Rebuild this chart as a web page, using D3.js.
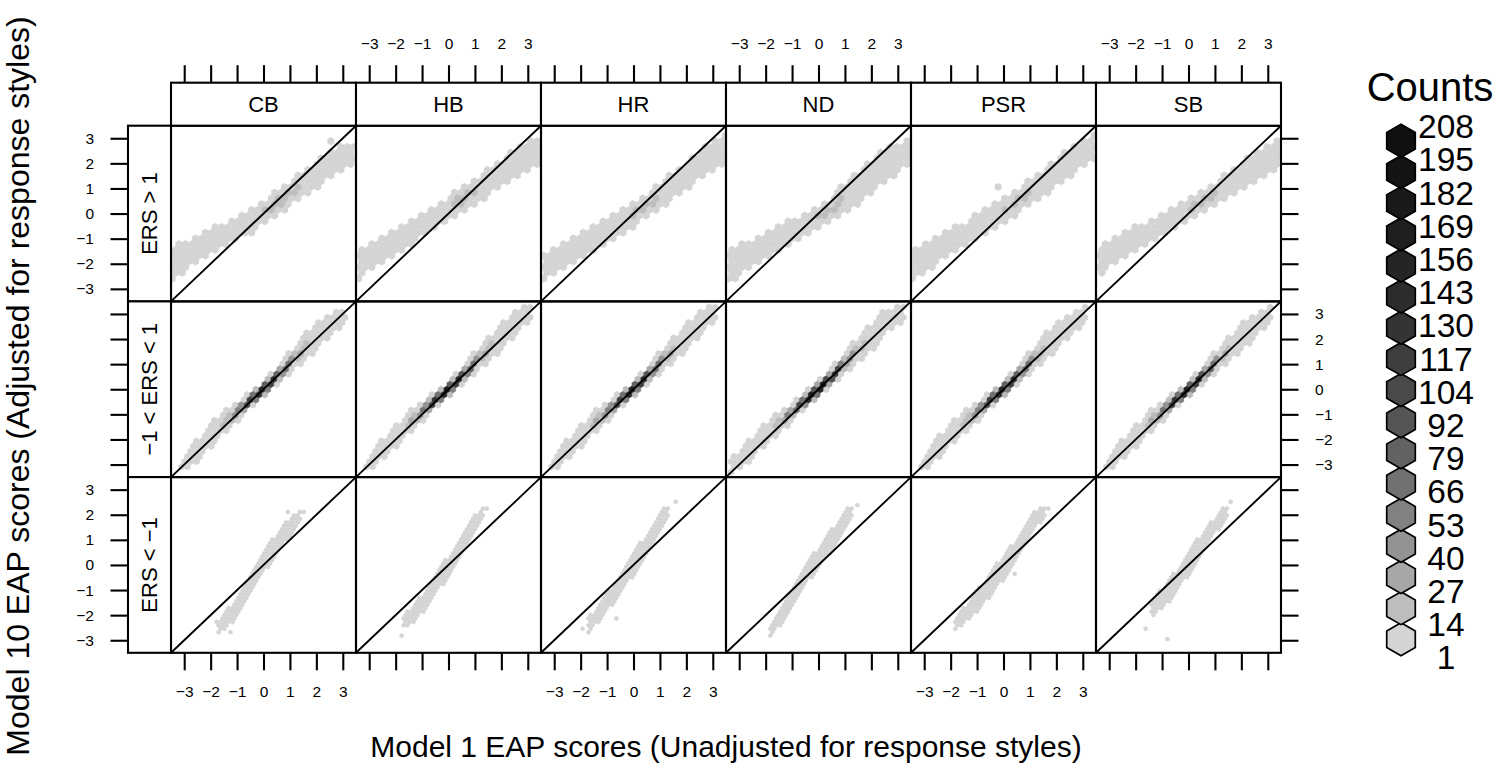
<!DOCTYPE html>
<html><head><meta charset="utf-8">
<script src="https://cdn.jsdelivr.net/npm/d3@7"></script>
<style>
body{margin:0;background:#fff}
svg{display:block}
text{font-family:"Liberation Sans",Arial,Helvetica,sans-serif;fill:#000}
</style>
</head><body>
<svg id="chart" width="1501" height="769"></svg>
<script>
// ---------------- data ----------------
const categories = ["CB","HB","HR","ND","PSR","SB"];
const groups = ["ERS > 1","\u22121 < ERS < 1","ERS < \u22121"];
const tickValues = [-3,-2,-1,0,1,2,3];
const legendBreaks = [1,14,27,40,53,66,79,92,104,117,130,143,156,169,182,195,208];
const legendGrays = ["#d4d4d4","#bdbdbd","#a7a7a7","#939393","#818181","#717171","#626262","#555555","#494949","#3e3e3e","#343434","#2c2c2c","#252525","#1f1f1f","#191919","#141414","#0f0f0f"];

// cloud profiles: [x, centre y, half-width in y, peak hexagon count]
const high_CB  = [[-3.45,-2.0,0.7,2],[-2.5,-1.4,0.55,4],[-1.5,-0.85,0.5,6],[-0.5,-0.3,0.5,10],[0.5,0.4,0.5,17],[1.5,1.2,0.55,14],[2.5,1.9,0.55,6],[3.4,2.4,0.5,2]];
const high_HB  = [[-3.4,-2.0,0.6,2],[-2.5,-1.4,0.55,4],[-1.5,-0.8,0.5,7],[-0.5,-0.15,0.5,12],[0.5,0.55,0.5,16],[1.5,1.25,0.55,12],[2.5,1.95,0.6,6],[3.4,2.5,0.55,2]];
const high_HR  = [[-3.4,-2.1,0.55,2],[-2.5,-1.6,0.55,4],[-1.5,-1.0,0.5,7],[-0.5,-0.35,0.5,12],[0.5,0.3,0.5,16],[1.5,1.1,0.55,12],[2.5,1.95,0.6,6],[3.4,2.55,0.55,2]];
const high_ND  = [[-3.4,-2.1,0.7,2],[-2.5,-1.55,0.55,4],[-1.5,-0.95,0.5,7],[-0.5,-0.45,0.45,12],[0.5,0.2,0.5,16],[1.5,1.05,0.7,12],[2.5,1.9,0.65,6],[3.4,2.45,0.55,2]];
const high_PSR = [[-3.45,-2.05,0.6,2],[-2.5,-1.45,0.55,4],[-1.5,-0.85,0.5,7],[-0.5,-0.2,0.5,12],[0.5,0.45,0.5,16],[1.5,1.2,0.55,12],[2.5,2.05,0.6,6],[3.4,2.7,0.55,2]];
const high_SB  = [[-3.4,-1.85,0.6,2],[-2.5,-1.3,0.55,4],[-1.5,-0.75,0.5,7],[-0.5,-0.15,0.5,12],[0.5,0.45,0.5,16],[1.5,1.1,0.55,12],[2.5,1.85,0.6,6],[3.4,2.35,0.6,2]];

const mid_CB  = [[-3.1,-3.05,0.3,1],[-2.5,-2.45,0.45,2],[-2,-1.85,0.5,6],[-1.5,-1.35,0.45,20],[-1,-0.9,0.4,60],[-0.5,-0.45,0.35,130],[0,0.0,0.35,170],[0.5,0.5,0.4,130],[1,1.05,0.5,70],[1.5,1.6,0.55,25],[2,2.1,0.55,8],[2.5,2.55,0.5,3],[3.0,2.85,0.35,1]];
const mid_HB  = [[-3.1,-3.0,0.3,1],[-2.5,-2.4,0.45,2],[-2,-1.85,0.45,6],[-1.5,-1.35,0.45,22],[-1,-0.9,0.4,65],[-0.5,-0.45,0.35,140],[0,0.0,0.35,190],[0.5,0.5,0.4,140],[1,1.05,0.45,70],[1.5,1.6,0.5,25],[2,2.1,0.55,8],[2.5,2.6,0.5,3],[3.0,3.0,0.35,1]];
const mid_HR  = [[-3.1,-3.05,0.3,1],[-2.5,-2.4,0.45,2],[-2,-1.85,0.45,6],[-1.5,-1.35,0.45,22],[-1,-0.9,0.4,62],[-0.5,-0.45,0.35,135],[0,0.0,0.35,180],[0.5,0.5,0.4,135],[1,1.05,0.45,68],[1.5,1.6,0.5,24],[2,2.1,0.55,8],[2.5,2.6,0.5,3],[3.0,3.0,0.35,1]];
const mid_ND  = [[-3.2,-3.0,0.35,1],[-2.5,-2.35,0.45,2],[-2,-1.8,0.45,6],[-1.5,-1.35,0.45,24],[-1,-0.9,0.4,70],[-0.5,-0.45,0.35,150],[0,0.0,0.35,208],[0.5,0.5,0.4,150],[1,1.05,0.45,70],[1.5,1.6,0.55,25],[2,2.05,0.55,8],[2.5,2.65,0.5,3],[3.1,3.0,0.35,1]];
const mid_PSR = [[-3.1,-3.0,0.3,1],[-2.5,-2.35,0.45,2],[-2,-1.8,0.45,6],[-1.5,-1.35,0.45,20],[-1,-0.9,0.4,60],[-0.5,-0.45,0.35,130],[0,0.0,0.35,170],[0.5,0.5,0.4,130],[1,1.05,0.5,65],[1.5,1.6,0.55,22],[2,2.1,0.55,8],[2.5,2.55,0.5,3],[3.0,2.9,0.35,1]];
const mid_SB  = [[-3.1,-3.0,0.3,1],[-2.5,-2.4,0.45,2],[-2,-1.85,0.45,6],[-1.5,-1.35,0.45,22],[-1,-0.9,0.4,65],[-0.5,-0.45,0.35,140],[0,0.0,0.35,185],[0.5,0.5,0.4,140],[1,1.05,0.45,68],[1.5,1.55,0.5,24],[2,2.05,0.55,8],[2.5,2.5,0.5,3],[3.0,2.9,0.35,1]];

const low_CB  = [[-1.7,-2.45,0.3,1],[-1.2,-1.95,0.4,2],[-0.6,-0.85,0.45,3],[0,0.1,0.45,4],[0.5,0.85,0.45,4],[1.0,1.5,0.4,2],[1.35,1.9,0.3,1]];
const low_HB  = [[-1.7,-2.3,0.3,1],[-1.1,-1.7,0.4,2],[-0.4,-0.6,0.45,3],[0.15,0.1,0.45,4],[0.6,0.95,0.45,3],[1.0,1.6,0.4,2],[1.3,2.0,0.3,1]];
const low_HR  = [[-1.7,-2.4,0.3,1],[-1.0,-1.5,0.4,2],[-0.3,-0.45,0.45,3],[0.2,0.35,0.45,4],[0.7,1.2,0.45,3],[1.1,1.85,0.35,2],[1.3,2.1,0.3,1]];
const low_ND  = [[-1.75,-2.5,0.3,1],[-1.1,-1.6,0.4,2],[-0.35,-0.2,0.45,3],[0.3,0.7,0.45,4],[0.8,1.45,0.4,3],[1.1,1.9,0.35,2],[1.25,2.1,0.3,1]];
const low_PSR = [[-1.75,-2.3,0.3,1],[-1.0,-1.45,0.45,2],[-0.3,-0.5,0.5,3],[0.3,0.3,0.5,4],[0.8,1.1,0.45,3],[1.2,1.8,0.35,2],[1.5,2.1,0.3,1]];
const low_SB  = [[-1.4,-1.75,0.35,1],[-0.8,-1.1,0.45,2],[-0.2,-0.3,0.45,3],[0.4,0.7,0.45,4],[0.9,1.4,0.4,3],[1.2,1.85,0.35,2],[1.4,2.05,0.3,1]];

// isolated hexagons: [row, column, x, y]
const outliers = [
  [0,0,2.44,2.93],[0,0,-3.41,-2.32],
  [0,4,-0.19,1.07],[0,4,2.93,2.93],
  [2,0,-1.78,-2.3],[2,0,-1.53,-2.3],[2,0,-1.27,-2.69],[2,0,1.49,2.13],[2,0,0.99,2.06],
  [2,1,-1.81,-2.82],[2,1,1.42,2.29],
  [2,2,1.64,2.56],[2,2,-1.9,-2.56],[2,2,-0.68,-2.1],
  [2,3,1.45,2.42],
  [2,4,1.72,2.23],[2,4,0.45,-0.37],
  [2,5,-1.58,-2.56],[2,5,-0.81,-2.95],[2,5,1.64,2.56]
];

// hexagon width (data units) per row, and spread of the dense core
const hexSize = [0.25, 0.225, 0.15];
const coreSpread = [0.45, 0.17, 0.4];

const bands = [
  [high_CB, high_HB, high_HR, high_ND, high_PSR, high_SB],
  [mid_CB, mid_HB, mid_HR, mid_ND, mid_PSR, mid_SB],
  [low_CB, low_HB, low_HR, low_ND, low_PSR, low_SB]
];

// ---------------- layout ----------------
const svg = d3.select("#chart");
const X0 = 171, Y0 = 125.7, PW = 185, PH = 175.7;
const STRIP = 43;
const LW = 2.1;
const x = d3.scaleLinear().domain([-3.5, 3.5]).range([0, PW]);
const y = d3.scaleLinear().domain([-3.5, 3.5]).range([PH, 0]);
const color = d3.scaleThreshold().domain(legendBreaks.slice(1)).range(legendGrays);
const FONT = '"Liberation Sans",Arial,Helvetica,sans-serif';

function hexPath(cx, cy, r) {
  const pts = d3.range(6).map(k => {
    const a = Math.PI / 3 * k + Math.PI / 6;
    return [cx + r * Math.cos(a), cy + r * Math.sin(a)];
  });
  return "M" + pts.map(p => p[0].toFixed(2) + "," + p[1].toFixed(2)).join("L") + "Z";
}

const defs = svg.append("defs");
defs.append("clipPath").attr("id", "pclip").append("rect")
  .attr("x", 0).attr("y", 0).attr("width", PW).attr("height", PH);

groups.forEach((gname, r) => {
  categories.forEach((cname, c) => {
    const band = bands[r][c];
    const g = svg.append("g").attr("transform", `translate(${X0 + c * PW},${Y0 + r * PH})`);
    const cS = d3.scaleLinear().domain(band.map(d => d[0])).range(band.map(d => d[1]));
    const hS = d3.scaleLinear().domain(band.map(d => d[0])).range(band.map(d => d[2]));
    const pS = d3.scaleLinear().domain(band.map(d => d[0])).range(band.map(d => d[3]));
    const xa = band[0][0], xb = band[band.length - 1][0];
    const wpx = x(hexSize[r]) - x(0);
    const rpx = wpx / Math.sqrt(3);
    const vs = 1.5 * rpx;
    const cells = new Map();
    const nJ = Math.ceil(PH / vs) + 1;
    const nI = Math.ceil((x(xb) - x(xa)) / wpx) + 2;
    for (let j = 0; j <= nJ; j++) {
      const cy = PH - j * vs;
      const off = (j % 2) * wpx / 2;
      for (let i = -1; i <= nI; i++) {
        const cx = x(xa) + i * wpx + off;
        const dx = x.invert(cx), dy = y.invert(cy);
        if (dx < xa - hexSize[r] / 2 || dx > xb + hexSize[r] / 2) continue;
        const cen = cS(dx), half = hS(dx), peak = pS(dx);
        const dist = Math.abs(dy - cen);
        if (dist > half) continue;
        const cnt = Math.max(1, Math.round(peak * Math.exp(-Math.pow(dist / coreSpread[r], 2))));
        cells.set(j + "_" + i, {cx, cy, count: cnt});
      }
    }
    outliers.filter(o => o[0] === r && o[1] === c).forEach(o => {
      const j = Math.round((PH - y(o[3])) / vs);
      const off = (((j % 2) + 2) % 2) * wpx / 2;
      const i = Math.round((x(o[2]) - x(xa) - off) / wpx);
      const key = j + "_" + i;
      if (!cells.has(key)) cells.set(key, {cx: x(xa) + i * wpx + off, cy: PH - j * vs, count: 1});
    });
    const data = Array.from(cells.values()).sort((a, b) => a.count - b.count);
    g.append("g").attr("clip-path", "url(#pclip)")
      .selectAll("path").data(data).join("path")
      .attr("d", d => hexPath(d.cx, d.cy, rpx))
      .attr("fill", d => color(d.count))
      .attr("stroke", d => color(d.count))
      .attr("stroke-width", 0.4);
    g.append("line")
      .attr("x1", x(-3.5)).attr("y1", y(-3.5)).attr("x2", x(3.5)).attr("y2", y(3.5))
      .attr("stroke", "#000").attr("stroke-width", 1.9);
    g.append("rect").attr("width", PW).attr("height", PH)
      .attr("fill", "none").attr("stroke", "#000").attr("stroke-width", LW);
  });
});

// top strips
categories.forEach((cname, c) => {
  const g = svg.append("g").attr("transform", `translate(${X0 + c * PW},${Y0 - STRIP})`);
  g.append("rect").attr("width", PW).attr("height", STRIP)
    .attr("fill", "#fff").attr("stroke", "#000").attr("stroke-width", LW);
  g.append("text").attr("x", PW / 2).attr("y", STRIP / 2).attr("dy", "0.36em")
    .attr("text-anchor", "middle").attr("font-size", 22).text(cname);
});
// left strips
groups.forEach((gname, r) => {
  const g = svg.append("g").attr("transform", `translate(${X0 - STRIP},${Y0 + r * PH})`);
  g.append("rect").attr("width", STRIP).attr("height", PH)
    .attr("fill", "#fff").attr("stroke", "#000").attr("stroke-width", LW);
  g.append("text").attr("transform", `translate(${STRIP / 2},${PH / 2}) rotate(-90)`)
    .attr("dy", "0.36em").attr("text-anchor", "middle").attr("font-size", 22).text(gname);
});

// axes
const fmt = d3.format("d");
function styleAxis(sel) {
  sel.select(".domain").remove();
  sel.attr("font-size", 15.5).attr("font-family", FONT);
  sel.selectAll(".tick line").attr("stroke-width", LW);
  sel.selectAll(".tick text").attr("fill", "#000");
}
categories.forEach((cname, c) => {
  const xs = x.copy().range([X0 + c * PW, X0 + (c + 1) * PW]);
  svg.append("g").attr("transform", `translate(0,${Y0 + 3 * PH})`)
    .call(d3.axisBottom(xs).tickValues(tickValues).tickSize(17.5).tickPadding(16)
      .tickFormat(c % 2 === 0 ? fmt : () => ""))
    .call(styleAxis);
  svg.append("g").attr("transform", `translate(0,${Y0 - STRIP})`)
    .call(d3.axisTop(xs).tickValues(tickValues).tickSize(17.5).tickPadding(16.5)
      .tickFormat(c % 2 === 1 ? fmt : () => ""))
    .call(styleAxis);
});
groups.forEach((gname, r) => {
  const ys = y.copy().range([Y0 + (r + 1) * PH, Y0 + r * PH]);
  svg.append("g").attr("transform", `translate(${X0 - STRIP},0)`)
    .call(d3.axisLeft(ys).tickValues(tickValues).tickSize(17.5).tickPadding(16.5)
      .tickFormat(r % 2 === 0 ? fmt : () => ""))
    .call(styleAxis);
  svg.append("g").attr("transform", `translate(${X0 + 6 * PW},0)`)
    .call(d3.axisRight(ys).tickValues(tickValues).tickSize(17.5).tickPadding(16.5)
      .tickFormat(r % 2 === 1 ? fmt : () => ""))
    .call(styleAxis);
});

// axis titles
svg.append("text").attr("x", X0 + 3 * PW).attr("y", 757).attr("text-anchor", "middle")
  .attr("font-size", 30).text("Model 1 EAP scores (Unadjusted for response styles)");
svg.append("text").attr("transform", `translate(29,386) rotate(-90)`)
  .attr("text-anchor", "middle").attr("font-size", 32)
  .text("Model 10 EAP scores (Adjusted for response styles)");

// legend
const lg = svg.append("g");
lg.append("text").attr("x", 1430).attr("y", 101).attr("text-anchor", "middle")
  .attr("font-size", 40).text("Counts");
const hexY = d3.scaleLinear().domain([0, legendBreaks.length - 1]).range([639.3, 140.8]);
const labY = d3.scaleLinear().domain([0, legendBreaks.length - 1]).range([669.3, 138.3]);
lg.selectAll("path.lh").data(legendBreaks).join("path").attr("class", "lh")
  .attr("d", (d, i) => hexPath(1401, hexY(i), 16.5))
  .attr("fill", d => color(d)).attr("stroke", "#000").attr("stroke-width", 1.7);
lg.selectAll("text.ll").data(legendBreaks).join("text").attr("class", "ll")
  .attr("x", 1446).attr("y", (d, i) => labY(i)).attr("text-anchor", "middle")
  .attr("font-size", 33.5).text(d => d);
</script>
</body></html>
